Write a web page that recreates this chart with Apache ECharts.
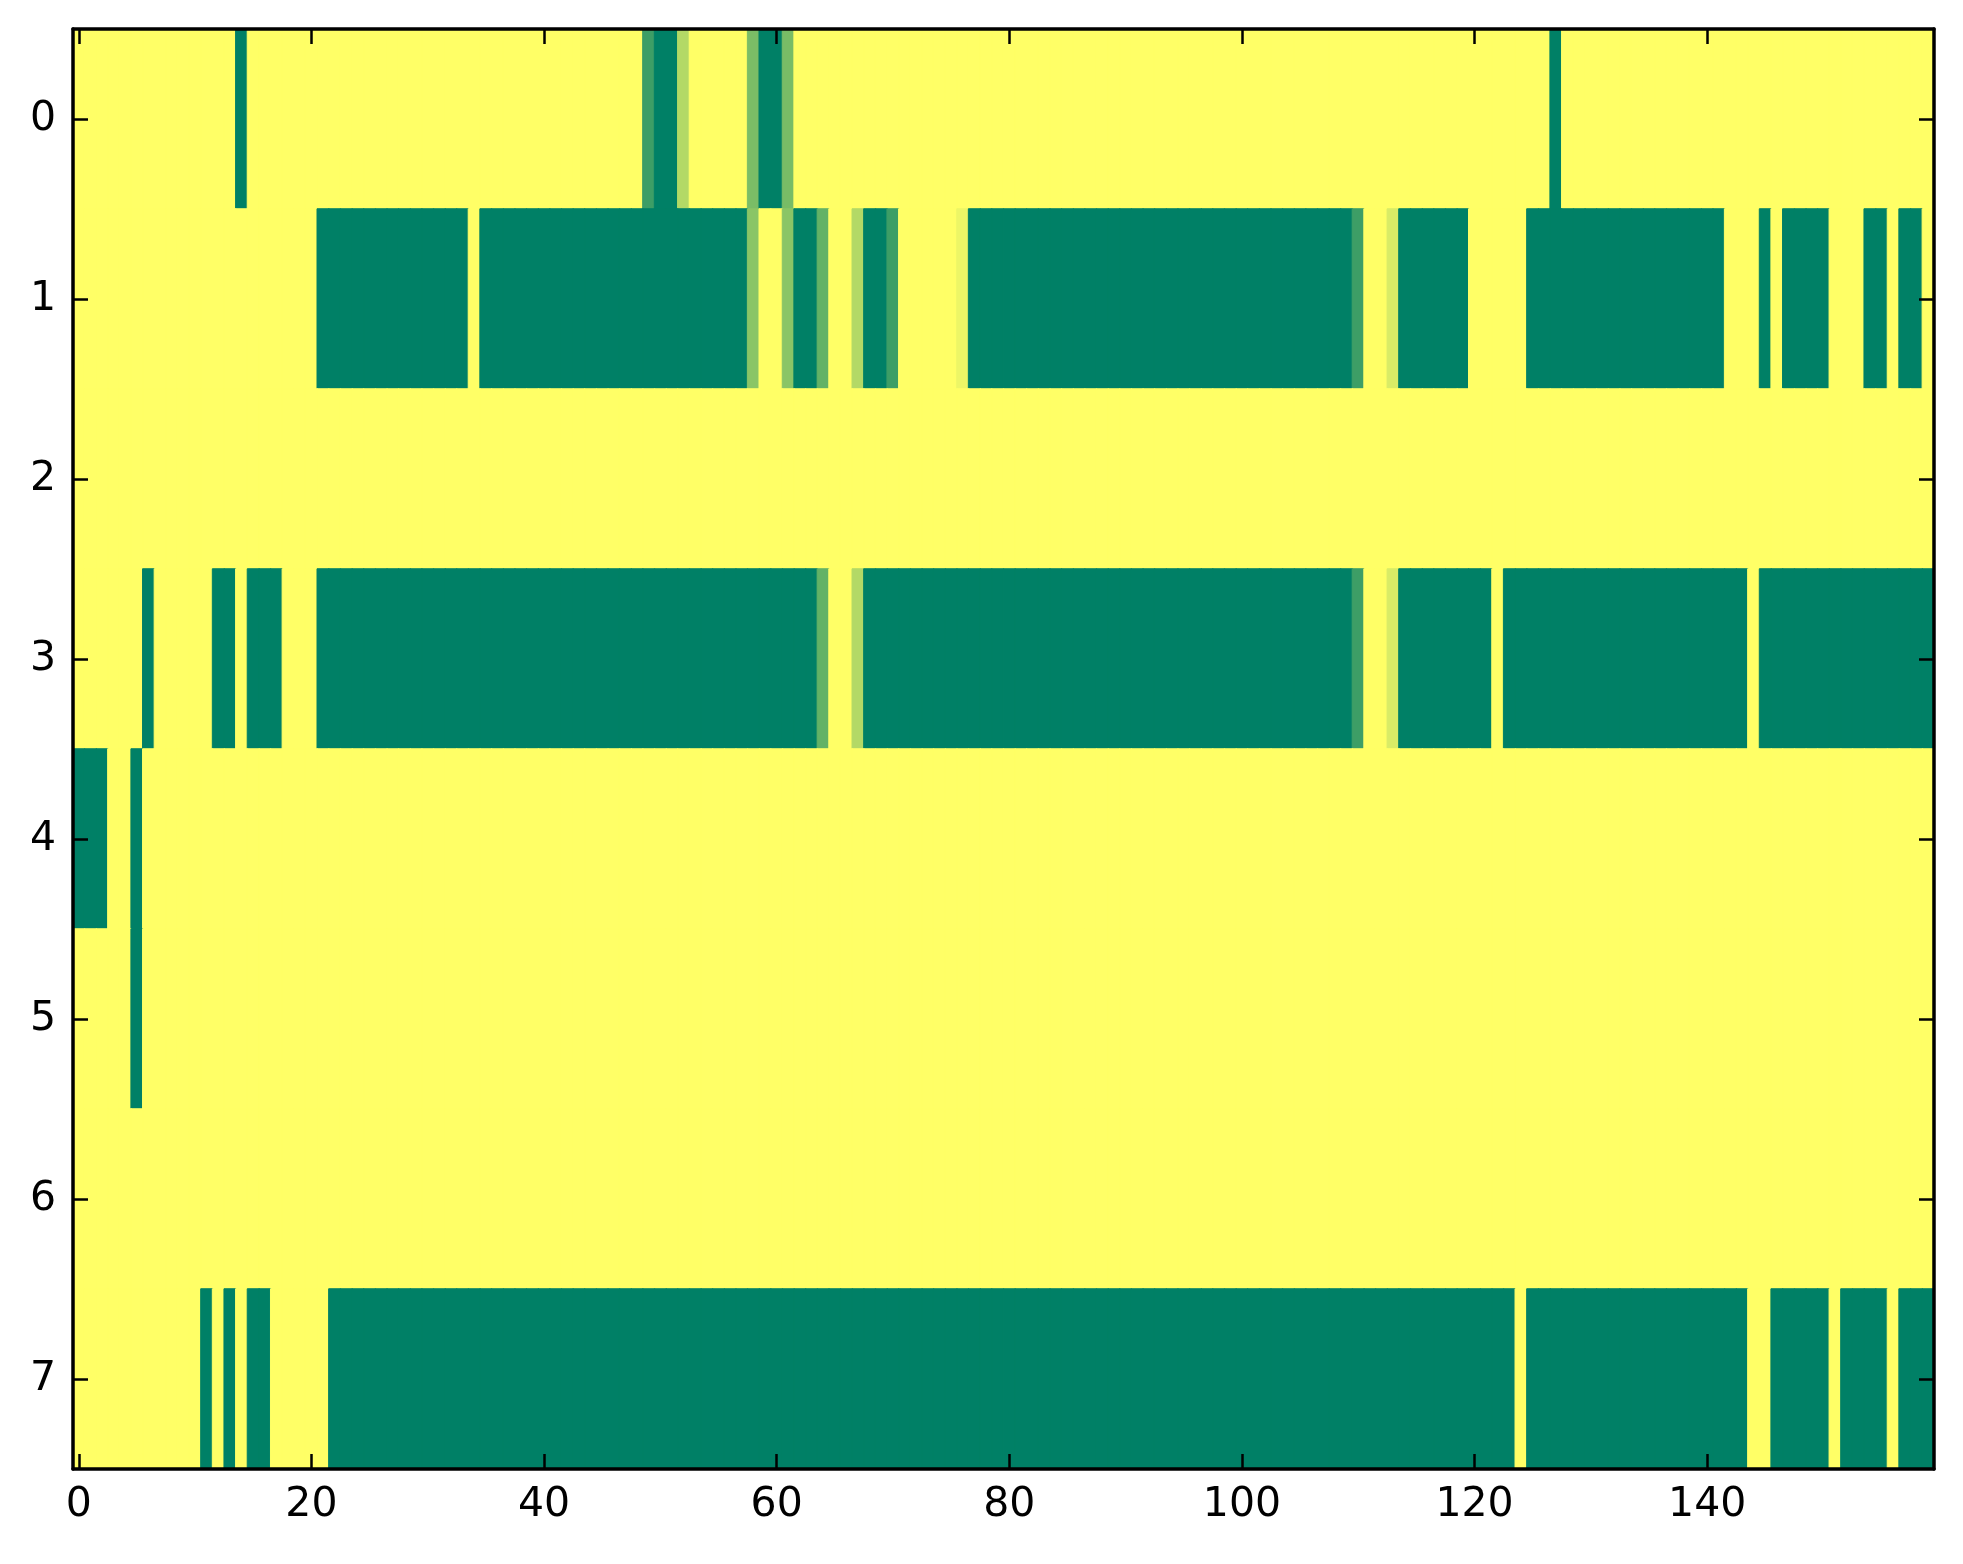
<!DOCTYPE html>
<html>
<head>
<meta charset="utf-8">
<script src="https://cdn.jsdelivr.net/npm/echarts@6/dist/echarts.min.js"></script>
<style>
html,body{margin:0;padding:0;background:#fff;}
#chart{width:1963px;height:1564px;}
</style>
</head>
<body>
<div id="chart"></div>
<script>
// Column categories 0..159 and row categories 0..7
var xCategories = [];
for (var i = 0; i < 160; i++) xCategories.push(String(i));
var yCategories = ['0','1','2','3','4','5','6','7'];
var xTickStep = 20;
var colorRange = ['#008066', '#ffff66']; // matplotlib "summer" ends

// Cell values per row (0 = green, 1 = yellow)
var row0 = [
1,1,1,1,1,1,1,1,1,1, 1,1,1,1,0,1,1,1,1,1,
1,1,1,1,1,1,1,1,1,1, 1,1,1,1,1,1,1,1,1,1,
1,1,1,1,1,1,1,1,1,0.24, 0,0,0.7,1,1,1,1,1,0.48,0,
0,0.47,1,1,1,1,1,1,1,1, 1,1,1,1,1,1,1,1,1,1,
1,1,1,1,1,1,1,1,1,1, 1,1,1,1,1,1,1,1,1,1,
1,1,1,1,1,1,1,1,1,1, 1,1,1,1,1,1,1,1,1,1,
1,1,1,1,1,1,1,0,1,1, 1,1,1,1,1,1,1,1,1,1,
1,1,1,1,1,1,1,1,1,1, 1,1,1,1,1,1,1,1,1,1
];
var row1 = [
1,1,1,1,1,1,1,1,1,1, 1,1,1,1,1,1,1,1,1,1,
1,0,0,0,0,0,0,0,0,0, 0,0,0,0,1,0,0,0,0,0,
0,0,0,0,0,0,0,0,0,0, 0,0,0,0,0,0,0,0,0.54,1,
1,0.54,0,0,0.39,1,1,0.7,0,0, 0.24,1,1,1,1,1,0.93,0,0,0,
0,0,0,0,0,0,0,0,0,0, 0,0,0,0,0,0,0,0,0,0,
0,0,0,0,0,0,0,0,0,0, 0.24,1,1,0.85,0,0,0,0,0,0,
1,1,1,1,1,0,0,0,0,0, 0,0,0,0,0,0,0,0,0,0,
0,0,1,1,1,0,1,0,0,0, 0,1,1,1,0,0,1,0,0,1
];
var row2 = [
1,1,1,1,1,1,1,1,1,1, 1,1,1,1,1,1,1,1,1,1,
1,1,1,1,1,1,1,1,1,1, 1,1,1,1,1,1,1,1,1,1,
1,1,1,1,1,1,1,1,1,1, 1,1,1,1,1,1,1,1,1,1,
1,1,1,1,1,1,1,1,1,1, 1,1,1,1,1,1,1,1,1,1,
1,1,1,1,1,1,1,1,1,1, 1,1,1,1,1,1,1,1,1,1,
1,1,1,1,1,1,1,1,1,1, 1,1,1,1,1,1,1,1,1,1,
1,1,1,1,1,1,1,1,1,1, 1,1,1,1,1,1,1,1,1,1,
1,1,1,1,1,1,1,1,1,1, 1,1,1,1,1,1,1,1,1,1
];
var row3 = [
1,1,1,1,1,1,0,1,1,1, 1,1,0,0,1,0,0,0,1,1,
1,0,0,0,0,0,0,0,0,0, 0,0,0,0,0,0,0,0,0,0,
0,0,0,0,0,0,0,0,0,0, 0,0,0,0,0,0,0,0,0,0,
0,0,0,0,0.39,1,1,0.7,0,0, 0,0,0,0,0,0,0,0,0,0,
0,0,0,0,0,0,0,0,0,0, 0,0,0,0,0,0,0,0,0,0,
0,0,0,0,0,0,0,0,0,0, 0.24,1,1,0.85,0,0,0,0,0,0,
0,0,1,0,0,0,0,0,0,0, 0,0,0,0,0,0,0,0,0,0,
0,0,0,0,1,0,0,0,0,0, 0,0,0,0,0,0,0,0,0,0
];
var row4 = [
0,0,0,1,1,0,1,1,1,1, 1,1,1,1,1,1,1,1,1,1,
1,1,1,1,1,1,1,1,1,1, 1,1,1,1,1,1,1,1,1,1,
1,1,1,1,1,1,1,1,1,1, 1,1,1,1,1,1,1,1,1,1,
1,1,1,1,1,1,1,1,1,1, 1,1,1,1,1,1,1,1,1,1,
1,1,1,1,1,1,1,1,1,1, 1,1,1,1,1,1,1,1,1,1,
1,1,1,1,1,1,1,1,1,1, 1,1,1,1,1,1,1,1,1,1,
1,1,1,1,1,1,1,1,1,1, 1,1,1,1,1,1,1,1,1,1,
1,1,1,1,1,1,1,1,1,1, 1,1,1,1,1,1,1,1,1,1
];
var row5 = [
1,1,1,1,1,0,1,1,1,1, 1,1,1,1,1,1,1,1,1,1,
1,1,1,1,1,1,1,1,1,1, 1,1,1,1,1,1,1,1,1,1,
1,1,1,1,1,1,1,1,1,1, 1,1,1,1,1,1,1,1,1,1,
1,1,1,1,1,1,1,1,1,1, 1,1,1,1,1,1,1,1,1,1,
1,1,1,1,1,1,1,1,1,1, 1,1,1,1,1,1,1,1,1,1,
1,1,1,1,1,1,1,1,1,1, 1,1,1,1,1,1,1,1,1,1,
1,1,1,1,1,1,1,1,1,1, 1,1,1,1,1,1,1,1,1,1,
1,1,1,1,1,1,1,1,1,1, 1,1,1,1,1,1,1,1,1,1
];
var row6 = [
1,1,1,1,1,1,1,1,1,1, 1,1,1,1,1,1,1,1,1,1,
1,1,1,1,1,1,1,1,1,1, 1,1,1,1,1,1,1,1,1,1,
1,1,1,1,1,1,1,1,1,1, 1,1,1,1,1,1,1,1,1,1,
1,1,1,1,1,1,1,1,1,1, 1,1,1,1,1,1,1,1,1,1,
1,1,1,1,1,1,1,1,1,1, 1,1,1,1,1,1,1,1,1,1,
1,1,1,1,1,1,1,1,1,1, 1,1,1,1,1,1,1,1,1,1,
1,1,1,1,1,1,1,1,1,1, 1,1,1,1,1,1,1,1,1,1,
1,1,1,1,1,1,1,1,1,1, 1,1,1,1,1,1,1,1,1,1
];
var row7 = [
1,1,1,1,1,1,1,1,1,1, 1,0,1,0,1,0,0,1,1,1,
1,1,0,0,0,0,0,0,0,0, 0,0,0,0,0,0,0,0,0,0,
0,0,0,0,0,0,0,0,0,0, 0,0,0,0,0,0,0,0,0,0,
0,0,0,0,0,0,0,0,0,0, 0,0,0,0,0,0,0,0,0,0,
0,0,0,0,0,0,0,0,0,0, 0,0,0,0,0,0,0,0,0,0,
0,0,0,0,0,0,0,0,0,0, 0,0,0,0,0,0,0,0,0,0,
0,0,0,0,1,0,0,0,0,0, 0,0,0,0,0,0,0,0,0,0,
0,0,0,0,1,1,0,0,0,0, 0,1,0,0,0,0,1,0,0,0
];
var rows = [row0, row1, row2, row3, row4, row5, row6, row7];

function cellColor(v) {
  if (echarts.color && echarts.color.lerp) return echarts.color.lerp(v, colorRange);
  return null;
}

var cells = [];
for (var r = 0; r < rows.length; r++) {
  for (var c = 0; c < rows[r].length; c++) {
    var v = rows[r][c];
    var bc = cellColor(v);
    var item = { value: [c, r, v] };
    if (bc) item.itemStyle = { borderColor: bc, borderWidth: 1 };
    cells.push(item);
  }
}

var FONT = 'DejaVu Sans';
var tickEvery = function (idx) { return idx % xTickStep === 0; };
var lineStyle = { color: '#000', width: 3.5 };
var tickStyle = { color: '#000', width: 2.5 };

var chart = echarts.init(document.getElementById('chart'), null, { renderer: 'canvas' });
chart.setOption({
  animation: false,
  backgroundColor: '#ffffff',
  grid: { left: 73, right: 29, top: 29, bottom: 95, containLabel: false },
  xAxis: [
    {
      type: 'category', data: xCategories, position: 'bottom', z: 10,
      axisLine: { show: true, lineStyle: lineStyle },
      axisTick: { show: true, inside: true, length: 15, alignWithLabel: true, interval: tickEvery, lineStyle: tickStyle },
      axisLabel: { show: true, interval: tickEvery, fontFamily: FONT, fontSize: 41, color: '#000', margin: 16 },
      splitLine: { show: false }, splitArea: { show: false }
    },
    {
      type: 'category', data: xCategories, position: 'top', z: 10,
      axisLine: { show: true, lineStyle: lineStyle },
      axisTick: { show: true, inside: true, length: 15, alignWithLabel: true, interval: tickEvery, lineStyle: tickStyle },
      axisLabel: { show: false },
      splitLine: { show: false }, splitArea: { show: false }
    }
  ],
  yAxis: [
    {
      type: 'category', data: yCategories, inverse: true, position: 'left', z: 10,
      axisLine: { show: true, lineStyle: lineStyle },
      axisTick: { show: true, inside: true, length: 15, alignWithLabel: true, lineStyle: tickStyle },
      axisLabel: { show: true, fontFamily: FONT, fontSize: 41, color: '#000', margin: 17 },
      splitLine: { show: false }, splitArea: { show: false }
    },
    {
      type: 'category', data: yCategories, inverse: true, position: 'right', z: 10,
      axisLine: { show: true, lineStyle: lineStyle },
      axisTick: { show: true, inside: true, length: 15, alignWithLabel: true, lineStyle: tickStyle },
      axisLabel: { show: false },
      splitLine: { show: false }, splitArea: { show: false }
    }
  ],
  visualMap: {
    type: 'continuous', min: 0, max: 1, show: false,
    inRange: { color: colorRange }
  },
  series: [{
    type: 'heatmap',
    xAxisIndex: 0, yAxisIndex: 0,
    data: cells,
    emphasis: { disabled: true },
    progressive: 0,
    z: 1
  }]
});
</script>
</body>
</html>
